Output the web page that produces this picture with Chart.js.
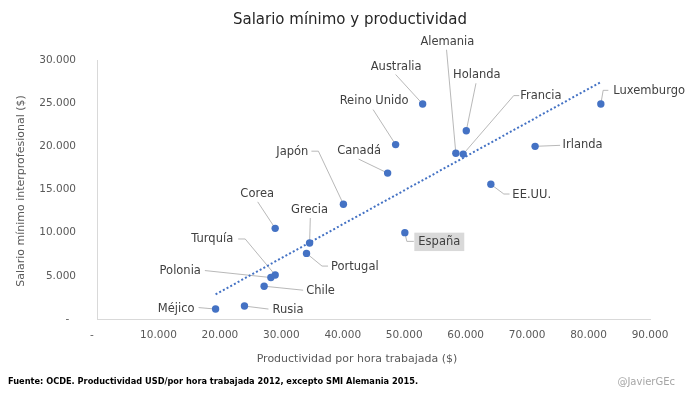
<!DOCTYPE html>
<html>
<head>
<meta charset="utf-8">
<script src="https://cdn.jsdelivr.net/npm/chart.js@4/dist/chart.umd.min.js"></script>
<style>
html,body{margin:0;padding:0;background:#fff;}
canvas{display:block;}
</style>
</head>
<body>
<canvas id="c" width="700" height="396"></canvas>
<script>
// ---- data ----
const countries = ["Méjico","Rusia","Chile","Polonia","Turquía","Corea","Grecia","Portugal","Japón","Canadá","Reino Unido","Australia","Alemania","Francia","Holanda","EE.UU.","Irlanda","Luxemburgo","España"];
const productivity = [19300,24000,27200,28300,29000,29000,34600,34100,40100,47300,48600,53000,58400,59600,60100,64100,71300,82000,50100];
const minWage = [1150,1500,3800,4800,5100,10500,8800,7600,13300,16900,20200,24900,19200,19100,21800,15600,20000,24900,10000];
const trendX = [19300, 82000];
const trendY = [2850, 27450];
const xTicks = [0,10000,20000,30000,40000,50000,60000,70000,80000,90000];
const yTicks = [0,5000,10000,15000,20000,25000,30000];

const titleText = "Salario mínimo y productividad";
const xTitle = "Productividad por hora trabajada ($)";
const yTitle = "Salario mínimo interprofesional ($)";
const footnote = "Fuente: OCDE. Productividad USD/por hora trabajada 2012, excepto SMI Alemania 2015.";
const credit = "@JavierGEc";

// ---- label placement (pixel offsets from each point; styling only) ----
const labelLayout = {
  "Méjico":     {dx:-21, dy:-0.5, align:"right", path:[[0,0],[-17,-1.5]]},
  "Rusia":      {dx:28,  dy:3.5,  align:"left",  path:[[0,0],[24,3]]},
  "Chile":      {dx:42,  dy:4.5,  align:"left",  path:[[0,0],[39,4]]},
  "Polonia":    {dx:-70, dy:-6.5, align:"right", path:[[0,0],[-66,-7]]},
  "Turquía":    {dx:-42, dy:-35.5,align:"right", path:[[0,0],[-30,-36],[-37,-36]]},
  "Corea":      {dx:-18, dy:-34.5,align:"center",path:[[0,0],[-17.5,-26.5]]},
  "Grecia":     {dx:0,   dy:-33.5,align:"center",path:[[0,0],[0.7,-25]]},
  "Portugal":   {dx:24.5,dy:13.5, align:"left",  path:[[0,0],[15.5,12.7],[21.5,12.7]]},
  "Japón":      {dx:-35, dy:-52.5,align:"right", path:[[0,0],[-25,-53],[-32,-53]]},
  "Canadá":     {dx:-28.5,dy:-22.5,align:"center",path:[[0,0],[-29,-14]]},
  "Reino Unido":{dx:-21.5,dy:-43.5,align:"center",path:[[0,0],[-22.5,-35]]},
  "Australia":  {dx:-26.5,dy:-37.5,align:"center",path:[[0,0],[-27,-29.5]]},
  "Alemania":   {dx:-8.5,dy:-111, align:"center",path:[[0,0],[-9.3,-103.5]]},
  "Holanda":    {dx:10.5,dy:-56,  align:"center",path:[[0,0],[9.7,-47.5]]},
  "Francia":    {dx:57,  dy:-58.5,align:"left",  path:[[0,0],[50.5,-58.5],[56,-58.5]]},
  "Luxemburgo": {dx:12.5,dy:-13.5,align:"left",  path:[[0,0],[2.3,-13.7],[7.5,-13.7]]},
  "Irlanda":    {dx:27.5,dy:-1,   align:"left",  path:[[0,0],[25,-1]]},
  "EE.UU.":     {dx:21.5,dy:10.5, align:"left",  path:[[0,0],[13,9.7],[18.7,9.7]]},
  "España":     {dx:13.5,dy:9.2,  align:"left",  path:[[0,0],[2,8.7],[9,8.7]], box:true}
};

const FONT = "'DejaVu Sans', 'Noto Sans', sans-serif";
const fmt = v => v === 0 ? "-" : String(v).replace(/\B(?=(\d{3})+(?!\d))/g, ".");

const points = productivity.map((x,i) => ({x, y:minWage[i]}));
const trend = trendX.map((x,i) => ({x, y:trendY[i]}));

const annot = {
  id: "annot",
  beforeDatasetsDraw(chart){
    const ctx = chart.ctx;
    const meta = chart.getDatasetMeta(1);
    ctx.save();
    ctx.strokeStyle = "#a6a6a6";
    ctx.lineWidth = 0.8;
    countries.forEach((c,i) => {
      const L = labelLayout[c]; const el = meta.data[i];
      if (!L || !el) return;
      ctx.beginPath();
      L.path.forEach((p,k) => { const X = el.x + p[0], Y = el.y + p[1]; k ? ctx.lineTo(X,Y) : ctx.moveTo(X,Y); });
      ctx.stroke();
    });
    ctx.restore();
  },
  afterDatasetsDraw(chart){
    const ctx = chart.ctx;
    const meta = chart.getDatasetMeta(1);
    ctx.save();
    ctx.font = "11.5px " + FONT;
    ctx.textBaseline = "middle";
    countries.forEach((c,i) => {
      const L = labelLayout[c]; const el = meta.data[i];
      if (!L || !el) return;
      const X = el.x + L.dx, Y = el.y + L.dy;
      ctx.textAlign = L.align;
      if (L.box){
        const w = ctx.measureText(c).width;
        ctx.fillStyle = "#d9d9d9";
        ctx.fillRect(X - 4, Y - 9.2, w + 8, 18.4);
      }
      ctx.fillStyle = "#404040";
      ctx.fillText(c, X, Y);
    });
    ctx.restore();
  },
  afterDraw(chart){
    const ctx = chart.ctx;
    ctx.save();
    ctx.textBaseline = "middle";
    // main title
    ctx.fillStyle = "#262626";
    ctx.font = "15px " + FONT;
    ctx.textAlign = "center";
    ctx.fillText(titleText, 350, 20);
    // x axis title
    ctx.fillStyle = "#595959";
    ctx.font = "11px " + FONT;
    ctx.fillText(xTitle, 357, 359);
    // y axis title
    ctx.save();
    ctx.translate(21, 191);
    ctx.rotate(-Math.PI/2);
    ctx.fillText(yTitle, 0, 0);
    ctx.restore();
    // footnote
    ctx.textAlign = "left";
    ctx.fillStyle = "#000000";
    ctx.font = "bold 8.3px " + FONT;
    ctx.fillText(footnote, 8, 382, 410);
    // credit
    ctx.fillStyle = "#a6a6a6";
    ctx.font = "10px " + FONT;
    ctx.textAlign = "right";
    ctx.fillText(credit, 675, 382);
    ctx.restore();
  }
};

new Chart(document.getElementById("c"), {
  type: "scatter",
  data: {
    datasets: [
      {
        label: "Tendencia",
        data: trend,
        showLine: true,
        borderColor: "#4472C4",
        borderWidth: 2,
        borderDash: [2, 2.2],
        pointRadius: 0,
        fill: false
      },
      {
        label: "Países",
        data: points,
        backgroundColor: "#4472C4",
        borderColor: "#4472C4",
        pointRadius: 3.7,
        pointBorderWidth: 0
      }
    ]
  },
  options: {
    responsive: false,
    animation: false,
    events: [],
    layout: { padding: { top: 60, right: 50, bottom: 0, left: 0 } },
    plugins: { legend: { display: false }, tooltip: { enabled: false }, title: { display: false } },
    scales: {
      x: {
        type: "linear",
        min: 0, max: 90000,
        afterFit: s => { s.height = 77; },
        afterBuildTicks: s => { s.ticks = xTicks.map(v => ({value:v})); },
        grid: { display: false, drawTicks: false },
        border: { display: true, color: "#d9d9d9", width: 1 },
        ticks: {
          padding: 10,
          color: "#595959",
          font: { family: FONT, size: 10.5 },
          maxRotation: 0,
          autoSkip: false,
          callback: v => v === 0 ? "-   " : fmt(v)
        }
      },
      y: {
        type: "linear",
        min: 0, max: 30000,
        afterFit: s => { s.width = 97; },
        afterBuildTicks: s => { s.ticks = yTicks.map(v => ({value:v})); },
        grid: { display: false, drawTicks: false },
        border: { display: true, color: "#d9d9d9", width: 1 },
        ticks: {
          padding: 21,
          color: "#595959",
          font: { family: FONT, size: 10.5 },
          autoSkip: false,
          callback: v => v === 0 ? "-  " : fmt(v)
        }
      }
    }
  },
  plugins: [annot]
});
</script>
</body>
</html>
